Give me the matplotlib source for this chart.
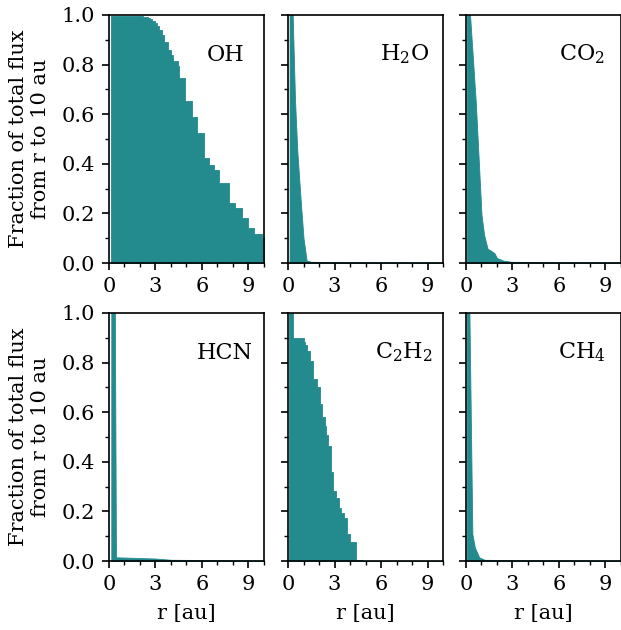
import matplotlib.pyplot as plt
from matplotlib.ticker import MultipleLocator

plt.rcParams['font.family'] = 'DejaVu Serif'
plt.rcParams['mathtext.fontset'] = 'dejavuserif'
plt.rcParams['font.size'] = 15
plt.rcParams['axes.linewidth'] = 1.2

color = '#238a8d'

# cumulative flux fraction from r outward
r_oh = [0.15, 2.2, 2.35, 2.5, 2.65, 2.8, 2.95, 3.1, 3.25, 3.4, 3.57, 3.82, 4.0, 4.15, 4.43, 4.49,
        4.9, 5.33, 5.65, 6.15, 6.45, 6.77, 7.1, 7.76, 8.13, 8.56, 8.95, 9.35, 9.85, 10.0]
f_oh = [0.995, 0.993, 0.99, 0.987, 0.983, 0.977, 0.968, 0.955, 0.94, 0.92, 0.89, 0.86, 0.84, 0.815,
        0.795, 0.745, 0.653, 0.59, 0.525, 0.422, 0.395, 0.375, 0.324, 0.243, 0.22, 0.18, 0.142,
        0.117, 0.1, 0.1]

r_h2o = [0.1, 0.3, 0.45, 0.6, 0.82, 1.0, 1.2, 1.5, 3.0, 10.0]
f_h2o = [1.2, 1.0, 0.66, 0.45, 0.25, 0.1, 0.01, 0.005, 0.003, 0.002]

r_co2 = [0.05, 0.26, 0.63, 0.85, 1.0, 1.17, 1.39, 1.6, 1.83, 2.0, 2.4, 2.9, 5.0, 10.0]
f_co2 = [1.2, 1.0, 0.65, 0.38, 0.194, 0.113, 0.058, 0.05, 0.04, 0.02, 0.01, 0.005, 0.003, 0.002]

r_hcn = [0.15, 0.37, 0.45, 1.5, 3.0, 4.0, 10.0]
f_hcn = [1.3, 1.1, 0.015, 0.013, 0.01, 0.005, 0.002]

r_c2h2 = [0.04, 0.3, 1.02, 1.12, 1.23, 1.45, 1.62, 1.88, 2.04, 2.17, 2.36, 2.47, 2.6, 2.75, 2.9,
          3.07, 3.29, 3.4, 3.6, 3.79, 3.99, 4.38, 4.76, 10.0]
f_c2h2 = [1.1, 0.9, 0.885, 0.87, 0.848, 0.808, 0.735, 0.703, 0.633, 0.58, 0.545, 0.51, 0.465, 0.357,
          0.283, 0.256, 0.215, 0.195, 0.175, 0.108, 0.078, 0.003, 0.002, 0.002]

r_ch4 = [0.05, 0.22, 0.41, 0.57, 0.85, 1.2, 3.0, 10.0]
f_ch4 = [1.3, 1.0, 0.109, 0.055, 0.015, 0.005, 0.003, 0.002]

# (label, r, fraction, stepped profile?)
panels = [('OH', r_oh, f_oh, True), (r'H$_2$O', r_h2o, f_h2o, False),
          (r'CO$_2$', r_co2, f_co2, False), ('HCN', r_hcn, f_hcn, False),
          (r'C$_2$H$_2$', r_c2h2, f_c2h2, True), (r'CH$_4$', r_ch4, f_ch4, False)]

fig = plt.figure(figsize=(6.21, 6.30), dpi=100)
lefts = [0.1755, 0.4638, 0.7504]
bottoms = [0.5825, 0.1095]
w, h = 0.2496, 0.3937

for i, (name, r, f, stepped) in enumerate(panels):
    row, col = divmod(i, 3)
    ax = fig.add_axes([lefts[col], bottoms[row], w, h])
    ax.fill_between(r, f, 0, color=color, lw=0.6, edgecolor=color,
                    step='post' if stepped else None)
    ax.set_xlim(0, 10)
    ax.set_ylim(0, 1)
    ax.xaxis.set_major_locator(MultipleLocator(3))
    ax.xaxis.set_minor_locator(MultipleLocator(1))
    ax.yaxis.set_major_locator(MultipleLocator(0.2))
    ax.yaxis.set_minor_locator(MultipleLocator(0.1))
    ax.tick_params(which='major', length=5, width=1.2, pad=5)
    ax.tick_params(which='minor', length=3, width=1.0)
    ax.text(0.75, 0.84, name, transform=ax.transAxes, ha='center', va='center', fontsize=16)
    if col == 0:
        ax.set_ylabel('Fraction of total flux\nfrom r to 10 au', labelpad=8)
    else:
        ax.set_yticklabels([])
    if row == 1:
        ax.set_xlabel('r [au]', labelpad=7)

fig.savefig('out.png', dpi=100)
